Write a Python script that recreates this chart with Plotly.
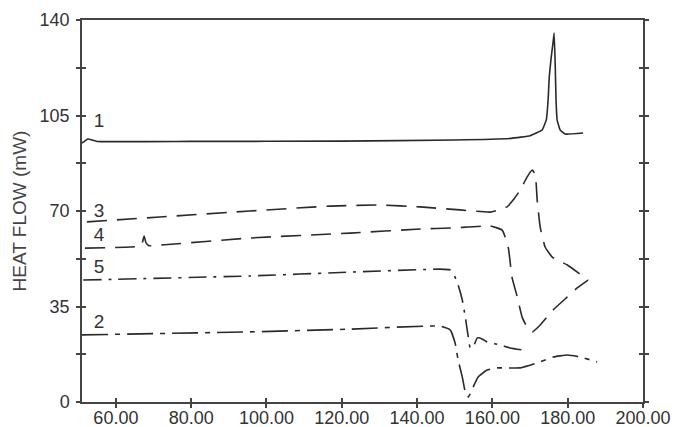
import plotly.graph_objects as go

# ---------------- data ----------------
# Curve 1 (solid)
c1_x = [51.0, 52.6, 55.0, 80.0, 120.0, 150.0, 165.0, 170.0, 173.2, 174.3, 174.8, 175.1, 175.6, 176.1, 176.4,
        176.7, 176.9, 177.2, 178.0, 179.3, 184.1]
c1_y = [94.9, 96.4, 95.5, 95.5, 95.6, 96.0, 96.6, 97.6, 99.7, 103.3, 110.7, 119.1, 126.1, 131.6, 135.2,
        122.8, 110.7, 103.3, 99.7, 98.2, 98.6]

# Curve 3 (long dash)
c3_x = [52.3, 71.7, 95.6, 116.9, 130.2, 140.8, 151.4, 159.4, 163.9, 165.5, 167.4, 169.2, 170.6,
        171.4, 171.9, 172.7, 174.0, 175.9, 179.9, 185.4]
c3_y = [66.0, 67.8, 70.0, 71.8, 72.2, 71.5, 70.4, 69.6, 71.5, 74.0, 77.7, 82.4, 85.0,
        83.2, 74.0, 64.1, 56.8, 53.1, 50.2, 44.7]

# Curve 4 (long dash)
c4_x = [51.8, 63.8, 66.7, 67.5, 68.0, 68.8, 71.7, 95.6, 122.2, 140.8, 149.6, 159.4, 162.6, 164.2,
        165.2, 166.6, 167.9, 169.2, 170.6, 172.7, 176.1, 179.9, 182.5, 185.4]
c4_y = [56.4, 56.8, 57.2, 60.8, 58.3, 57.3, 57.5, 60.1, 61.9, 63.4, 63.8, 64.5, 63.0, 56.8,
        45.8, 38.5, 31.1, 27.5, 25.7, 28.2, 33.7, 38.5, 41.8, 44.7]

# Curve 5 (dash-dot)
c5_x = [51.3, 95.6, 122.2, 146.1, 148.8, 149.6, 150.9, 152.0, 152.8, 153.6, 154.1, 154.9, 156.0,
        157.3, 158.6, 162.1, 164.7, 167.9]
c5_y = [44.7, 46.2, 47.6, 48.7, 48.4, 47.3, 42.9, 37.4, 31.1, 23.8, 19.8, 20.2, 23.5,
        23.1, 22.0, 20.9, 19.8, 19.1]

# Curve 2 (dash-dot)
c2_x = [51.0, 95.6, 122.2, 146.1, 148.8, 150.1, 150.9, 152.0, 152.8, 153.6, 154.9, 156.2, 158.6,
        161.3, 167.4, 171.9, 176.1, 179.9, 183.3, 187.8]
c2_y = [24.6, 25.7, 26.7, 27.8, 26.4, 21.6, 15.4, 9.2, 3.7, 1.8, 5.5, 9.2, 11.7,
        12.5, 12.5, 14.3, 16.5, 17.2, 16.5, 14.7]

# Curve labels
label_text = ["1", "3", "4", "5", "2"]
label_x = [55.5, 55.5, 55.5, 55.5, 55.5]
label_y = [102.6, 69.6, 60.8, 49.1, 28.9]

# Axis ticks
x_ticks = [60, 80, 100, 120, 140, 160, 180, 200]
x_ticktext = ["60.00", "80.00", "100.00", "120.00", "140.00", "160.00", "180.00", "200.00"]
y_ticks = [0, 17.5, 35, 52.5, 70, 87.5, 105, 122.5, 140]
y_ticktext = ["0", "", "35", "", "70", "", "105", "", "140"]

# ---------------- figure ----------------
LC = "#2a2a2a"
LW = 1.6
FONT = "Liberation Sans, Arial, sans-serif"
fig = go.Figure()

fig.add_trace(go.Scatter(x=c1_x, y=c1_y, mode="lines",
                         line=dict(color=LC, width=LW, shape="spline", smoothing=0.3)))
fig.add_trace(go.Scatter(x=c3_x, y=c3_y, mode="lines",
                         line=dict(color=LC, width=LW, dash="20px,10px", shape="spline", smoothing=0.4)))
fig.add_trace(go.Scatter(x=c4_x, y=c4_y, mode="lines",
                         line=dict(color=LC, width=LW, dash="20px,10px", shape="spline", smoothing=0.4)))
fig.add_trace(go.Scatter(x=c5_x, y=c5_y, mode="lines",
                         line=dict(color=LC, width=LW, dash="18px,7px,3px,7px", shape="spline", smoothing=0.4)))
fig.add_trace(go.Scatter(x=c2_x, y=c2_y, mode="lines",
                         line=dict(color=LC, width=LW, dash="26px,7px,5px,7px", shape="spline", smoothing=0.4)))

fig.add_trace(go.Scatter(x=label_x, y=label_y, mode="text", text=label_text,
                         textfont=dict(family=FONT, size=19, color="#333"),
                         xaxis="x2", yaxis="y2"))

axis_font = dict(family=FONT, size=18, color="#333")
AX = "#444"

fig.update_layout(
    width=674, height=427,
    margin=dict(l=82, r=31, t=20, b=25),
    paper_bgcolor="white", plot_bgcolor="white",
    showlegend=False, hovermode=False,
    font=axis_font,
    xaxis=dict(range=[51, 200], tickvals=x_ticks, ticktext=x_ticktext, automargin=False,
               ticks="outside", ticklen=4, tickwidth=1.5, tickcolor=AX,
               showline=True, linecolor=AX, linewidth=1.5, mirror=True,
               showgrid=False, zeroline=False, tickfont=axis_font, ticklabelstandoff=-5),
    yaxis=dict(range=[0, 140], tickvals=y_ticks, ticktext=y_ticktext, automargin=False,
               ticks="outside", ticklen=4, tickwidth=1.5, tickcolor=AX,
               showline=True, linecolor=AX, linewidth=1.5, mirror="ticks",
               showgrid=False, zeroline=False, tickfont=axis_font, ticklabelstandoff=3,
               title=dict(text="HEAT FLOW (mW)", font=dict(family=FONT, size=19, color="#444"),
                          standoff=8)),
    xaxis2=dict(range=[51, 200], tickvals=x_ticks, overlaying="x", automargin=False,
                ticks="inside", ticklen=4, tickwidth=1.5, tickcolor=AX,
                showticklabels=False, showline=True, linecolor=AX, linewidth=1.5, mirror=True,
                showgrid=False, zeroline=False),
    yaxis2=dict(range=[0, 140], tickvals=y_ticks, overlaying="y", automargin=False,
                ticks="inside", ticklen=4, tickwidth=1.5, tickcolor=AX, mirror="ticks",
                showticklabels=False, showline=True, linecolor=AX, linewidth=1.5,
                showgrid=False, zeroline=False),
)

fig.write_html("out.html")
